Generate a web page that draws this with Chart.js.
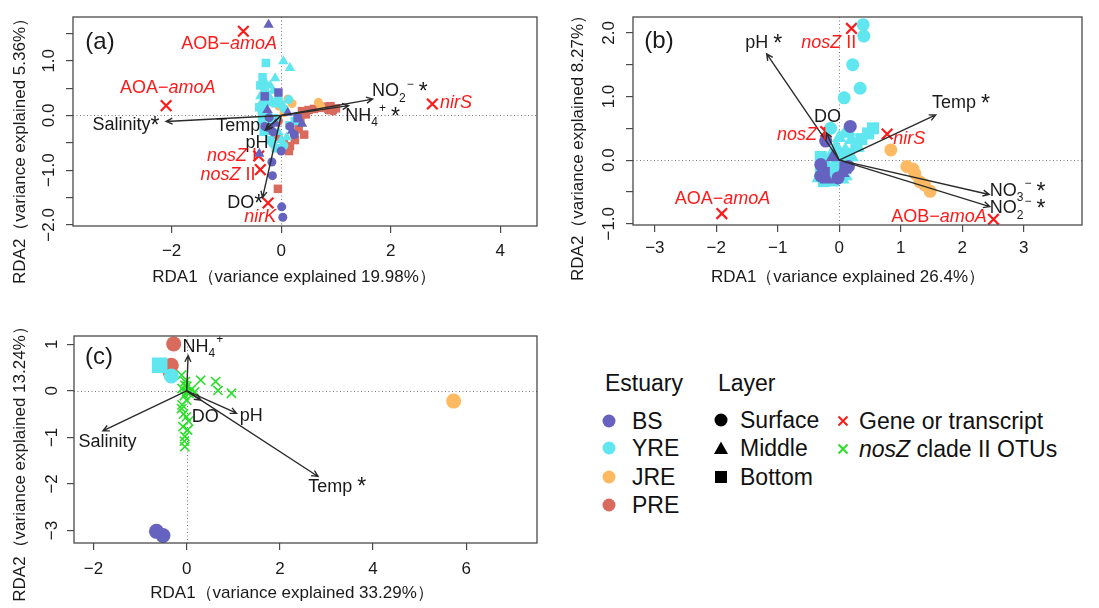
<!DOCTYPE html>
<html>
<head>
<meta charset="utf-8">
<script src="https://cdn.jsdelivr.net/npm/chart.js@4.4.1/dist/chart.umd.min.js"></script>
<style>
  body { margin: 0; background: #fff; width: 1099px; height: 608px; overflow: hidden; position: relative;
         font-family: "Liberation Sans", Arial, sans-serif; color: #111; }
  canvas { position: absolute; }
  .lt { position: absolute; font-size: 23px; line-height: 28px; white-space: nowrap; }
  .mk { position: absolute; width: 16px; height: 16px; }
</style>
</head>
<body>
<canvas id="pa" width="560" height="300" style="left:0;top:0"></canvas>
<canvas id="pb" width="539" height="300" style="left:560px;top:0"></canvas>
<canvas id="pc" width="560" height="298" style="left:0;top:310px"></canvas>

<!-- legend -->
<div class="lt" style="left:605px;top:369px">Estuary</div>
<div class="lt" style="left:718px;top:369px">Layer</div>
<div class="lt" style="left:632px;top:407px">BS</div>
<div class="lt" style="left:632px;top:434px">YRE</div>
<div class="lt" style="left:632px;top:463px">JRE</div>
<div class="lt" style="left:632px;top:491px">PRE</div>
<div class="lt" style="left:740px;top:406px">Surface</div>
<div class="lt" style="left:740px;top:434px">Middle</div>
<div class="lt" style="left:740px;top:463px">Bottom</div>
<div class="lt" style="left:859px;top:407px">Gene or transcript</div>
<div class="lt" style="left:859px;top:435px"><i>nosZ</i> clade II OTUs</div>
<svg class="mk" style="left:601px;top:413px"><circle cx="8" cy="8" r="6.5" fill="#6563BF"/></svg>
<svg class="mk" style="left:601px;top:440px"><circle cx="8" cy="8" r="6.5" fill="#5FE6EE"/></svg>
<svg class="mk" style="left:601px;top:469px"><circle cx="8" cy="8" r="6.5" fill="#FEBA62"/></svg>
<svg class="mk" style="left:601px;top:497px"><circle cx="8" cy="8" r="6.5" fill="#D86A5E"/></svg>
<svg class="mk" style="left:713px;top:412px"><circle cx="8" cy="8" r="6.5" fill="#000"/></svg>
<svg class="mk" style="left:713px;top:440px"><polygon points="8,1.5 15,14 1,14" fill="#000"/></svg>
<svg class="mk" style="left:713px;top:469px"><rect x="2" y="2" width="12" height="12" fill="#000"/></svg>
<svg class="mk" style="left:835px;top:413px"><path d="M3.5 3.5 L12.5 12.5 M12.5 3.5 L3.5 12.5" stroke="#FF1A1A" stroke-width="2"/></svg>
<svg class="mk" style="left:835px;top:441px"><path d="M3.5 3.5 L12.5 12.5 M12.5 3.5 L3.5 12.5" stroke="#2AE02A" stroke-width="2"/></svg>

<script>
// ---- colours ----
const colBS = '#6563BF', colYRE = '#5FE6EE', colJRE = '#FEBA62', colPRE = '#D86A5E';
const colGene = '#FF1A1A', colOTU = '#2AE02A';

// ---- panel (a) : samples ----
const aBSCircle = [[-0.17,-0.85],[-0.16,-1.1],[0.01,-1.67],[0.03,-1.86],[0.24,-0.35],[0.16,-0.2],[-0.15,-0.3],[-0.3,-0.2],[0.0,-0.65],[-0.22,-0.04]];
const aBSTriangle = [[-0.23,1.66],[-0.4,-0.7],[0.38,-0.15],[-0.25,0.1],[-0.1,-0.15],[0.12,0.05],[0.2,-0.28]];
const aBSSquare = [[-0.3,0.35],[-0.2,-0.22],[0.3,-0.05],[-0.05,0.42]];
const aYRECircle = [[-0.32,0.17],[0.14,0.29],[0.06,0.12],[-0.23,0.0],[-0.1,-0.05],[-0.15,-0.52],[0.05,-0.55],[-0.35,0.05],[-0.05,0.3],[-0.2,0.25],[0.0,0.2]];
const aYRETriangle = [[0.04,0.99],[0.16,0.87],[-0.11,0.68],[-0.2,0.55],[-0.3,0.45],[-0.22,0.35],[-0.35,0.25],[-0.1,0.2],[-0.05,-0.3],[-0.25,-0.3],[0.1,-0.4],[-0.3,0.62],[-0.15,0.45],[-0.38,0.35],[-0.28,0.1],[-0.18,-0.1],[0.0,-0.45]];
const aYRESquare = [[-0.28,0.96],[-0.34,0.70],[-0.3,0.5],[-0.25,0.3],[-0.4,0.15],[-0.35,-0.1],[0.15,-0.18],[-0.2,-0.45],[0.25,-0.1],[-0.38,0.55],[-0.32,-0.3],[-0.1,-0.6]];
const aJRECircle = [[-0.04,0.17],[0.12,0.3],[0.2,0.22],[0.68,0.24],[0.72,0.17],[0.05,0.05]];
const aPRESquare = [[-0.06,-1.34],[0.38,0.08],[0.5,0.1],[0.6,0.12],[0.7,0.14],[0.8,0.16],[0.9,0.17],[1.0,0.13],[0.45,0.02],[0.35,-0.08],[0.32,-0.25],[0.42,-0.35],[0.25,-0.45],[0.16,-0.56],[0.14,-0.65],[0.05,-0.5]];
const aPRECircle = [[0.85,0.1],[0.95,0.08],[-0.05,-0.1],[-0.05,-0.4],[0.1,-0.62]];
// panel (a) : genes and environmental vectors
const aGeneNames = ['AOB−~amoA~', 'AOA−~amoA~', '~nirS~', '~nosZ~ I', '~nosZ~ II', '~nirK~'];
const aGeneX = [-0.69, -2.10, 2.76, -0.41, -0.38, -0.24];
const aGeneY = [1.54, 0.18, 0.21, -0.74, -0.99, -1.60];
const aEnvNames = ['Salinity*', 'NO_2^− *', 'NH_4^+ *', 'Temp', 'pH', 'DO*'];
const aEnvX = [-2.10, 1.67, 1.23, -0.29, -0.27, -0.34];
const aEnvY = [-0.11, 0.30, 0.18, -0.27, -0.25, -1.50];

// ---- panel (b) ----
const bBSCircle = [[0.18,0.53],[-0.22,0.3],[-0.3,-0.07],[-0.3,-0.25],[-0.02,-0.28],[0.15,-0.1]];
const bBSTriangle = [[-0.2,-0.3],[0.05,-0.2],[-0.1,0.05]];
const bBSSquare = [[-0.25,-0.2],[0.1,-0.12]];
const bYRECircle = [[0.39,2.13],[0.40,1.95],[0.22,1.50],[0.34,1.13],[0.08,0.98],[-0.14,0.50],[-0.2,-0.15],[-0.05,0.1]];
const bYRETriangle = [[0.09,0.42],[0.2,0.32],[0.1,0.15],[-0.05,0.22],[-0.15,0.05],[-0.25,-0.1],[-0.1,-0.2],[0.0,-0.05],[-0.2,-0.3],[0.05,-0.3],[0.3,0.2],[-0.3,-0.2],[-0.25,0.0],[-0.1,-0.1],[0.05,0.05],[-0.33,-0.28],[-0.15,-0.33],[0.1,-0.25],[0.2,0.05],[0.0,0.35],[0.15,0.45]];
const bYRESquare = [[0.55,0.5],[0.47,0.42],[0.36,0.33],[0.28,0.22],[0.15,0.1],[-0.15,-0.25],[-0.3,-0.15],[0.0,-0.25],[-0.1,-0.32],[-0.25,-0.33],[-0.05,-0.15],[0.12,-0.05],[-0.3,0.05]];
const bJRECircle = [[0.84,0.16],[1.10,-0.10],[1.20,-0.14],[1.23,-0.21],[1.31,-0.34],[1.39,-0.39],[1.48,-0.49]];
const bGeneNames = ['~nosZ~ II', '~nosZ~ I', '~nirS~', 'AOA−~amoA~', 'AOB−~amoA~'];
const bGeneX = [0.20, -0.22, 0.78, -1.91, 2.51];
const bGeneY = [2.07, 0.45, 0.41, -0.84, -0.93];
const bEnvNames = ['pH *', 'DO', 'Temp *', 'NO_3^− *', 'NO_2^− *'];
const bEnvX = [-1.18, -0.21, 1.57, 2.44, 2.45];
const bEnvY = [1.67, 0.43, 0.71, -0.54, -0.73];

// ---- panel (c) ----
const cBSCircle = [[-0.65,-3.02],[-0.51,-3.11]];
const cYRECircle = [[-0.33,0.32]];
const cYRESquare = [[-0.58,0.55]];
const cJRECircle = [[5.73,-0.22]];
const cPRECircle = [[-0.28,1.01],[-0.33,0.55],[-0.36,0.41]];
const cOTU = [[-0.11,0.34],[0.30,0.23],[0.62,0.20],[0.67,0.01],[0.96,-0.05],[-0.04,0.12],[0.17,-0.02],[-0.1,0.05],[0.0,0.1],[0.05,-0.05],[0.1,0.03],[-0.05,-0.1],[0.0,-0.2],[-0.1,-0.3],[-0.11,-0.38],[-0.01,-0.56],[-0.08,-0.77],[0.02,-0.84],[-0.04,-0.98],[-0.04,-1.2],[-0.07,-0.5],[0.04,-0.65],[-0.05,-1.08],[0.0,-0.02],[-0.03,0.2]];
const cEnvNames = ['NH_4^+', 'Salinity', 'DO', 'pH', 'Temp *'];
const cEnvX = [0.03, -1.80, 0.30, 1.07, 2.82];
const cEnvY = [0.76, -0.86, -0.20, -0.48, -1.84];

// label anchors (data units) and alignment
const aGeneLab = [[-0.95,1.30,'center'],[-2.07,0.51,'center'],[2.90,0.22,'left'],[-0.44,-0.74,'right'],[-0.47,-1.08,'right'],[-0.38,-1.85,'center']];
const aEnvLab = [[-2.22,-0.18,'right'],[1.66,0.44,'left'],[1.17,-0.01,'left'],[-0.38,-0.20,'right'],[-0.44,-0.50,'center'],[-0.33,-1.60,'right']];
const bGeneLab = [[-0.17,1.84,'center'],[-0.20,0.40,'right'],[0.88,0.33,'left'],[-1.90,-0.61,'center'],[2.40,-0.90,'right']];
const bEnvLab = [[-1.23,1.84,'center'],[-0.19,0.68,'center'],[1.98,0.89,'center'],[2.45,-0.49,'left'],[2.45,-0.76,'left']];
const cEnvLab = [[-0.09,0.94,'left'],[-1.70,-1.09,'center'],[0.40,-0.56,'center'],[1.14,-0.54,'left'],[3.23,-2.06,'center']];

const FONT = '"Liberation Sans", Arial, sans-serif';

// split "~italic~", "_sub", "^sup" markup into runs; '*' gets its own larger run
function parseRich(s) {
    const runs = [];
    let it = false;
    for (let i = 0; i < s.length; i++) {
        const c = s[i];
        if (c === '~') { it = !it; continue; }
        if (c === '_' || c === '^') { runs.push({ t: s[i + 1], it, k: c }); i++; continue; }
        if (c === '*') { runs.push({ t: c, it, k: '*' }); continue; }
        const last = runs[runs.length - 1];
        if (last && !last.k && last.it === it) last.t += c;
        else runs.push({ t: c, it, k: '' });
    }
    return runs;
}

function drawRich(ctx, s, x, y, align, size, color) {
    const runs = parseRich(s);
    const sizeOf = r => r.k === '_' || r.k === '^' ? Math.round(size * 0.68) : r.k === '*' ? Math.round(size * 1.25) : size;
    const fontOf = r => `${r.it ? 'italic ' : ''}${sizeOf(r)}px ${FONT}`;
    let w = 0;
    runs.forEach(r => { ctx.font = fontOf(r); r.w = ctx.measureText(r.t).width; w += r.w; });
    let cx = align === 'left' ? x : align === 'right' ? x - w : x - w / 2;
    ctx.fillStyle = color;
    ctx.textAlign = 'left';
    ctx.textBaseline = 'middle';
    runs.forEach(r => {
        ctx.font = fontOf(r);
        const dy = r.k === '_' ? size * 0.38 : r.k === '^' ? -size * 0.4 : r.k === '*' ? size * 0.08 : 0;
        ctx.fillText(r.t, cx, y + dy);
        cx += r.w + (r.k === '_' ? 1 : 0);
    });
}

function arrow(ctx, x0, y0, x1, y1) {
    const a = Math.atan2(y1 - y0, x1 - x0), L = 7, w = Math.PI / 7;
    ctx.beginPath();
    ctx.moveTo(x0, y0); ctx.lineTo(x1, y1);
    ctx.moveTo(x1 - L * Math.cos(a - w), y1 - L * Math.sin(a - w));
    ctx.lineTo(x1, y1);
    ctx.lineTo(x1 - L * Math.cos(a + w), y1 - L * Math.sin(a + w));
    ctx.stroke();
}

const isInt = v => Math.abs(v - Math.round(v)) < 1e-6;
const fmtNum = (v, d) => {
    const r = Math.round(v * 1000) / 1000;
    const s = Math.abs(r).toFixed(d);
    return r < 0 ? '−' + s : s;
};

// draws frame, dotted origin lines, tick labels, titles, arrows and labels
function rdaPlugin(P) {
    return {
        id: 'rda',
        beforeDatasetsDraw(chart) {
            const { ctx, chartArea: ca, scales: { x, y } } = chart;
            ctx.save();
            ctx.strokeStyle = '#7a7a7a';
            ctx.lineWidth = 1;
            ctx.setLineDash([1, 2.5]);
            const x0 = Math.round(x.getPixelForValue(0)) + 0.5, y0 = Math.round(y.getPixelForValue(0)) + 0.5;
            ctx.beginPath();
            ctx.moveTo(ca.left, y0); ctx.lineTo(ca.right, y0);
            ctx.moveTo(x0, ca.top); ctx.lineTo(x0, ca.bottom);
            ctx.stroke();
            ctx.restore();
        },
        afterDatasetsDraw(chart) {
            const { ctx, chartArea: ca, scales: { x, y } } = chart;
            ctx.save();
            // arrows
            ctx.strokeStyle = '#2b2b2b';
            ctx.lineWidth = 1.4;
            const ox = x.getPixelForValue(0), oy = y.getPixelForValue(0);
            P.envX.forEach((v, i) => arrow(ctx, ox, oy, x.getPixelForValue(v), y.getPixelForValue(P.envY[i])));
            // labels
            P.envNames.forEach((n, i) => {
                const l = P.envLab[i];
                drawRich(ctx, n, x.getPixelForValue(l[0]), y.getPixelForValue(l[1]), l[2], 18, '#1a1a1a');
            });
            (P.geneNames || []).forEach((n, i) => {
                const l = P.geneLab[i];
                drawRich(ctx, n, x.getPixelForValue(l[0]), y.getPixelForValue(l[1]), l[2], 18, colGene);
            });
            // frame
            ctx.strokeStyle = '#4a4a4a';
            ctx.lineWidth = 1.3;
            ctx.strokeRect(ca.left, ca.top, ca.right - ca.left, ca.bottom - ca.top);
            // tick labels
            ctx.fillStyle = '#1a1a1a';
            ctx.font = `17px ${FONT}`;
            ctx.textAlign = 'center';
            ctx.textBaseline = 'middle';
            x.ticks.forEach(t => ctx.fillText(fmtNum(t.value, 0), x.getPixelForValue(t.value), ca.bottom + P.xLabOff));
            y.ticks.forEach(t => {
                if (!isInt(t.value)) return;
                ctx.save();
                ctx.translate(ca.left - P.yLabOff, y.getPixelForValue(t.value));
                ctx.rotate(-Math.PI / 2);
                ctx.fillText(fmtNum(t.value, P.yDec), 0, 0);
                ctx.restore();
            });
            // axis titles
            ctx.fillText(P.xTitle, P.xTitlePos[0], P.xTitlePos[1]);
            ctx.save();
            ctx.translate(P.yTitlePos[0], P.yTitlePos[1]);
            ctx.rotate(-Math.PI / 2);
            ctx.fillText(P.yTitle, 0, 0);
            ctx.restore();
            // panel letter
            ctx.font = `24px ${FONT}`;
            ctx.fillText(P.letter, P.letterPos[0], P.letterPos[1]);
            ctx.restore();
        }
    };
}

function series(pts, style, r, color, bw) {
    return {
        data: pts.map(p => ({ x: p[0], y: p[1] })),
        pointStyle: style,
        pointRadius: r,
        pointHoverRadius: r,
        backgroundColor: color,
        borderColor: color,
        borderWidth: bw || 0,
        showLine: false
    };
}

function makePanel(id, P) {
    const cv = document.getElementById(id);
    const W = cv.width, H = cv.height, xH = 30;
    new Chart(cv, {
        type: 'scatter',
        data: { datasets: P.sets },
        plugins: [rdaPlugin(P)],
        options: {
            responsive: false,
            animation: false,
            events: [],
            layout: { padding: { left: 0, top: P.area[1], right: W - P.area[2], bottom: H - P.area[3] - xH } },
            plugins: { legend: { display: false }, tooltip: { enabled: false } },
            scales: {
                x: {
                    type: 'linear', min: P.xr[0], max: P.xr[1],
                    afterFit: s => { s.height = xH; },
                    ticks: { display: false, stepSize: P.xStep, includeBounds: false },
                    grid: { drawOnChartArea: false, drawTicks: true, tickLength: 7, color: '#4a4a4a', lineWidth: 1.2 },
                    border: { display: false }
                },
                y: {
                    type: 'linear', min: P.yr[0], max: P.yr[1],
                    afterFit: s => { s.width = P.area[0]; },
                    ticks: { display: false, stepSize: P.yStep, includeBounds: false },
                    grid: { drawOnChartArea: false, drawTicks: true, tickLength: 7, color: '#4a4a4a', lineWidth: 1.2 },
                    border: { display: false }
                }
            }
        }
    });
}

const geneSet = (xs, ys) => series(xs.map((v, i) => [v, ys[i]]), 'crossRot', 7.5, colGene, 2.2);

makePanel('pa', {
    area: [73, 17, 537, 226], xr: [-3.8, 4.67], yr: [-2.02, 1.80], xStep: 2, yStep: 0.5, yDec: 1,
    xLabOff: 25, yLabOff: 24,
    xTitle: 'RDA1（variance explained 19.98%）', xTitlePos: [294, 277],
    yTitle: 'RDA2（variance explained 5.36%）', yTitlePos: [20, 147],
    letter: '(a)', letterPos: [100, 42],
    envNames: aEnvNames, envX: aEnvX, envY: aEnvY, envLab: aEnvLab,
    geneNames: aGeneNames, geneLab: aGeneLab,
    sets: [
        series(aBSCircle, 'circle', 4.5, colBS), series(aBSTriangle, 'triangle', 6, colBS), series(aBSSquare, 'rect', 6, colBS),
        series(aYRESquare, 'rect', 6, colYRE), series(aYRETriangle, 'triangle', 6, colYRE), series(aYRECircle, 'circle', 4.5, colYRE),
        series(aJRECircle, 'circle', 4.5, colJRE),
        series(aPRESquare, 'rect', 6, colPRE), series(aPRECircle, 'circle', 4.5, colPRE),
        geneSet(aGeneX, aGeneY)
    ]
});

makePanel('pb', {
    area: [73, 17, 522, 225], xr: [-3.355, 3.95], yr: [-1.02, 2.25], xStep: 1, yStep: 0.5, yDec: 1,
    xLabOff: 23, yLabOff: 24,
    xTitle: 'RDA1（variance explained 26.4%）', xTitlePos: [288, 277],
    yTitle: 'RDA2（variance explained 8.27%）', yTitlePos: [18, 144],
    letter: '(b)', letterPos: [99, 41],
    envNames: bEnvNames, envX: bEnvX, envY: bEnvY, envLab: bEnvLab,
    geneNames: bGeneNames, geneLab: bGeneLab,
    sets: [
        series(bBSCircle, 'circle', 6.5, colBS), series(bBSTriangle, 'triangle', 8.5, colBS), series(bBSSquare, 'rect', 8.5, colBS),
        series(bYRECircle, 'circle', 6.5, colYRE), series(bYRETriangle, 'triangle', 8.5, colYRE), series(bYRESquare, 'rect', 8.5, colYRE),
        series(bJRECircle, 'circle', 6.5, colJRE),
        geneSet(bGeneX, bGeneY)
    ]
});

makePanel('pc', {
    area: [74, 26, 537, 233], xr: [-2.42, 7.52], yr: [-3.27, 1.18], xStep: 2, yStep: 1, yDec: 0,
    xLabOff: 26, yLabOff: 22,
    xTitle: 'RDA1（variance explained 33.29%）', xTitlePos: [292, 283],
    yTitle: 'RDA2（variance explained 13.24%）', yTitlePos: [20, 150],
    letter: '(c)', letterPos: [99, 47],
    envNames: cEnvNames, envX: cEnvX, envY: cEnvY, envLab: cEnvLab,
    sets: [
        series(cYRESquare, 'rect', 11, colYRE), series(cYRECircle, 'circle', 7.5, colYRE),
        series(cPRECircle, 'circle', 7.5, colPRE),
        series(cBSCircle, 'circle', 7.5, colBS),
        series(cJRECircle, 'circle', 7.5, colJRE),
        series(cOTU, 'crossRot', 6.5, colOTU, 1.6)
    ]
});
</script>
</body>
</html>
